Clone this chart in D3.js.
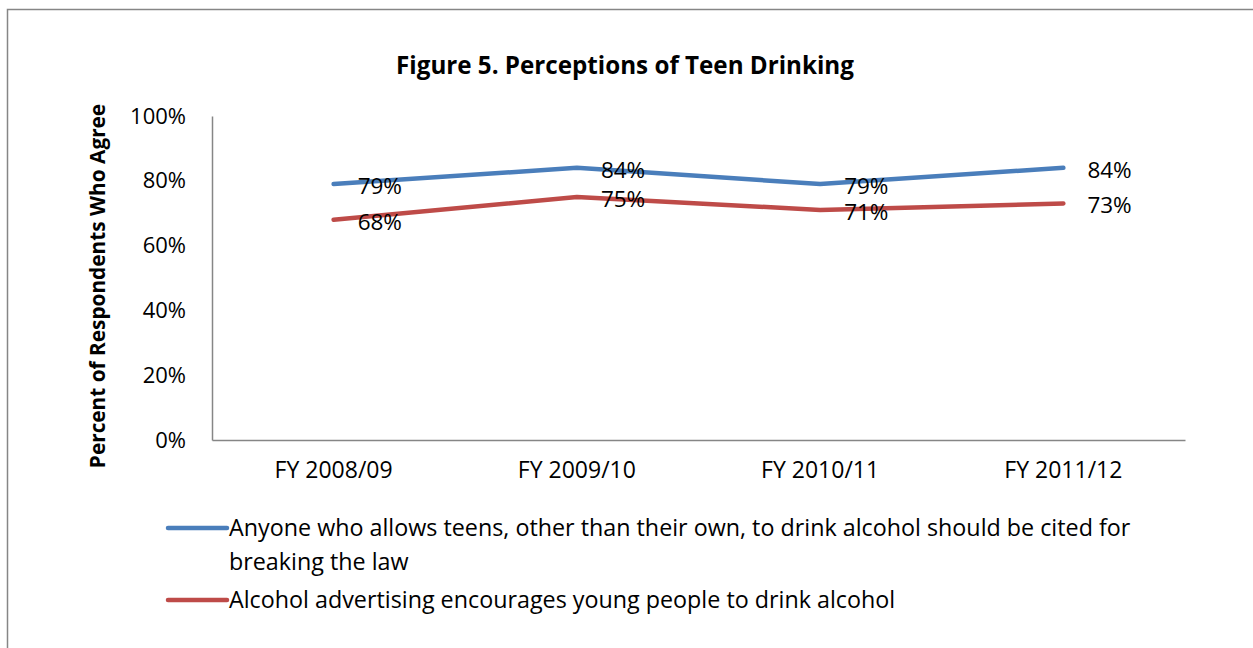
<!DOCTYPE html>
<html>
<head>
<meta charset="utf-8">
<script src="https://cdn.jsdelivr.net/npm/d3@7/dist/d3.min.js"></script>
<style>
  html, body { margin: 0; padding: 0; background: #fff; }
  svg { display: block; font-family: "Open Sans", sans-serif; }
</style>
</head>
<body>
<svg id="chart" width="1253" height="648"></svg>
<script>
// Survey years
const categories = ["FY 2008/09", "FY 2009/10", "FY 2010/11", "FY 2011/12"];
// Percent agreeing with each statement
const citedValues = [79, 84, 79, 84];
const advertisingValues = [68, 75, 71, 73];
const seriesNames = [
  "Anyone who allows teens, other than their own, to drink alcohol should be cited for breaking the law",
  "Alcohol advertising encourages young people to drink alcohol"
];
const yTicks = [0, 20, 40, 60, 80, 100];

const series = [
  { name: seriesNames[0], values: citedValues, color: "#4A7EBB" },
  { name: seriesNames[1], values: advertisingValues, color: "#BE4B48" }
];

const FONT = "'Open Sans', sans-serif";
const FS = 23;

const svg = d3.select("#chart");

// Outer chart frame
svg.append("rect")
  .attr("x", 7.5).attr("y", 9.5)
  .attr("width", 1260).attr("height", 660)
  .attr("fill", "none").attr("stroke", "#868686").attr("stroke-width", 1.5);

const plot = { left: 212, right: 1185, top: 116, bottom: 440 };

const x = d3.scaleBand().domain(categories).range([plot.left, plot.right]);
const y = d3.scaleLinear().domain([0, 100]).range([plot.bottom, plot.top]);
const cx = c => x(c) + x.bandwidth() / 2;

// Title
svg.append("text")
  .attr("x", 625).attr("y", 74)
  .attr("text-anchor", "middle")
  .attr("font-size", 24.2).attr("font-weight", "bold")
  .text("Figure 5. Perceptions of Teen Drinking");

// Y axis
const yAxis = d3.axisLeft(y).tickValues(yTicks).tickSize(0).tickPadding(26)
  .tickFormat(d => d + "%");
const gy = svg.append("g").attr("transform", `translate(${plot.left},0)`).call(yAxis);
gy.select(".domain").attr("stroke", "#868686").attr("stroke-width", 1.5);
gy.selectAll("text").attr("font-size", 22).attr("fill", "#000").attr("font-family", FONT);

// X axis
const xAxis = d3.axisBottom(x).tickSize(0).tickPadding(22);
const gx = svg.append("g").attr("transform", `translate(0,${plot.bottom})`).call(xAxis);
gx.select(".domain").attr("stroke", "#868686").attr("stroke-width", 1.5);
gx.selectAll("text").attr("font-size", FS).attr("fill", "#000").attr("font-family", FONT);

// Y axis title
svg.append("text")
  .attr("transform", "translate(105,286) rotate(-90)")
  .attr("text-anchor", "middle")
  .attr("font-size", 20.8).attr("font-weight", "bold")
  .text("Percent of Respondents Who Agree");

// Lines
const line = d3.line().x((d, i) => cx(categories[i])).y(d => y(d));
series.forEach(s => {
  svg.append("path")
    .datum(s.values)
    .attr("d", line)
    .attr("fill", "none")
    .attr("stroke", s.color)
    .attr("stroke-width", 4.5)
    .attr("stroke-linejoin", "round")
    .attr("stroke-linecap", "round");
});

// Data labels to the right of each point
series.forEach(s => {
  svg.append("g").selectAll("text")
    .data(s.values)
    .join("text")
    .attr("x", (d, i) => cx(categories[i]) + 24)
    .attr("y", d => y(d) + 10)
    .attr("font-size", 22.5)
    .attr("fill", "#000")
    .text(d => d + "%");
});

// Legend
const legendItems = [
  { lines: ["Anyone who allows teens, other than their own, to drink alcohol should be cited for", "breaking the law"], color: series[0].color, y: 528 },
  { lines: [seriesNames[1]], color: series[1].color, y: 600 }
];
legendItems.forEach(item => {
  svg.append("line")
    .attr("x1", 168).attr("x2", 227)
    .attr("y1", item.y).attr("y2", item.y)
    .attr("stroke", item.color).attr("stroke-width", 4.5)
    .attr("stroke-linecap", "round");
  const t = svg.append("text")
    .attr("x", 229).attr("y", item.y + 8)
    .attr("font-size", 23.3).attr("fill", "#000");
  item.lines.forEach((ln, i) => {
    t.append("tspan").attr("x", 229).attr("dy", i === 0 ? 0 : 34).text(ln);
  });
});
</script>
</body>
</html>
